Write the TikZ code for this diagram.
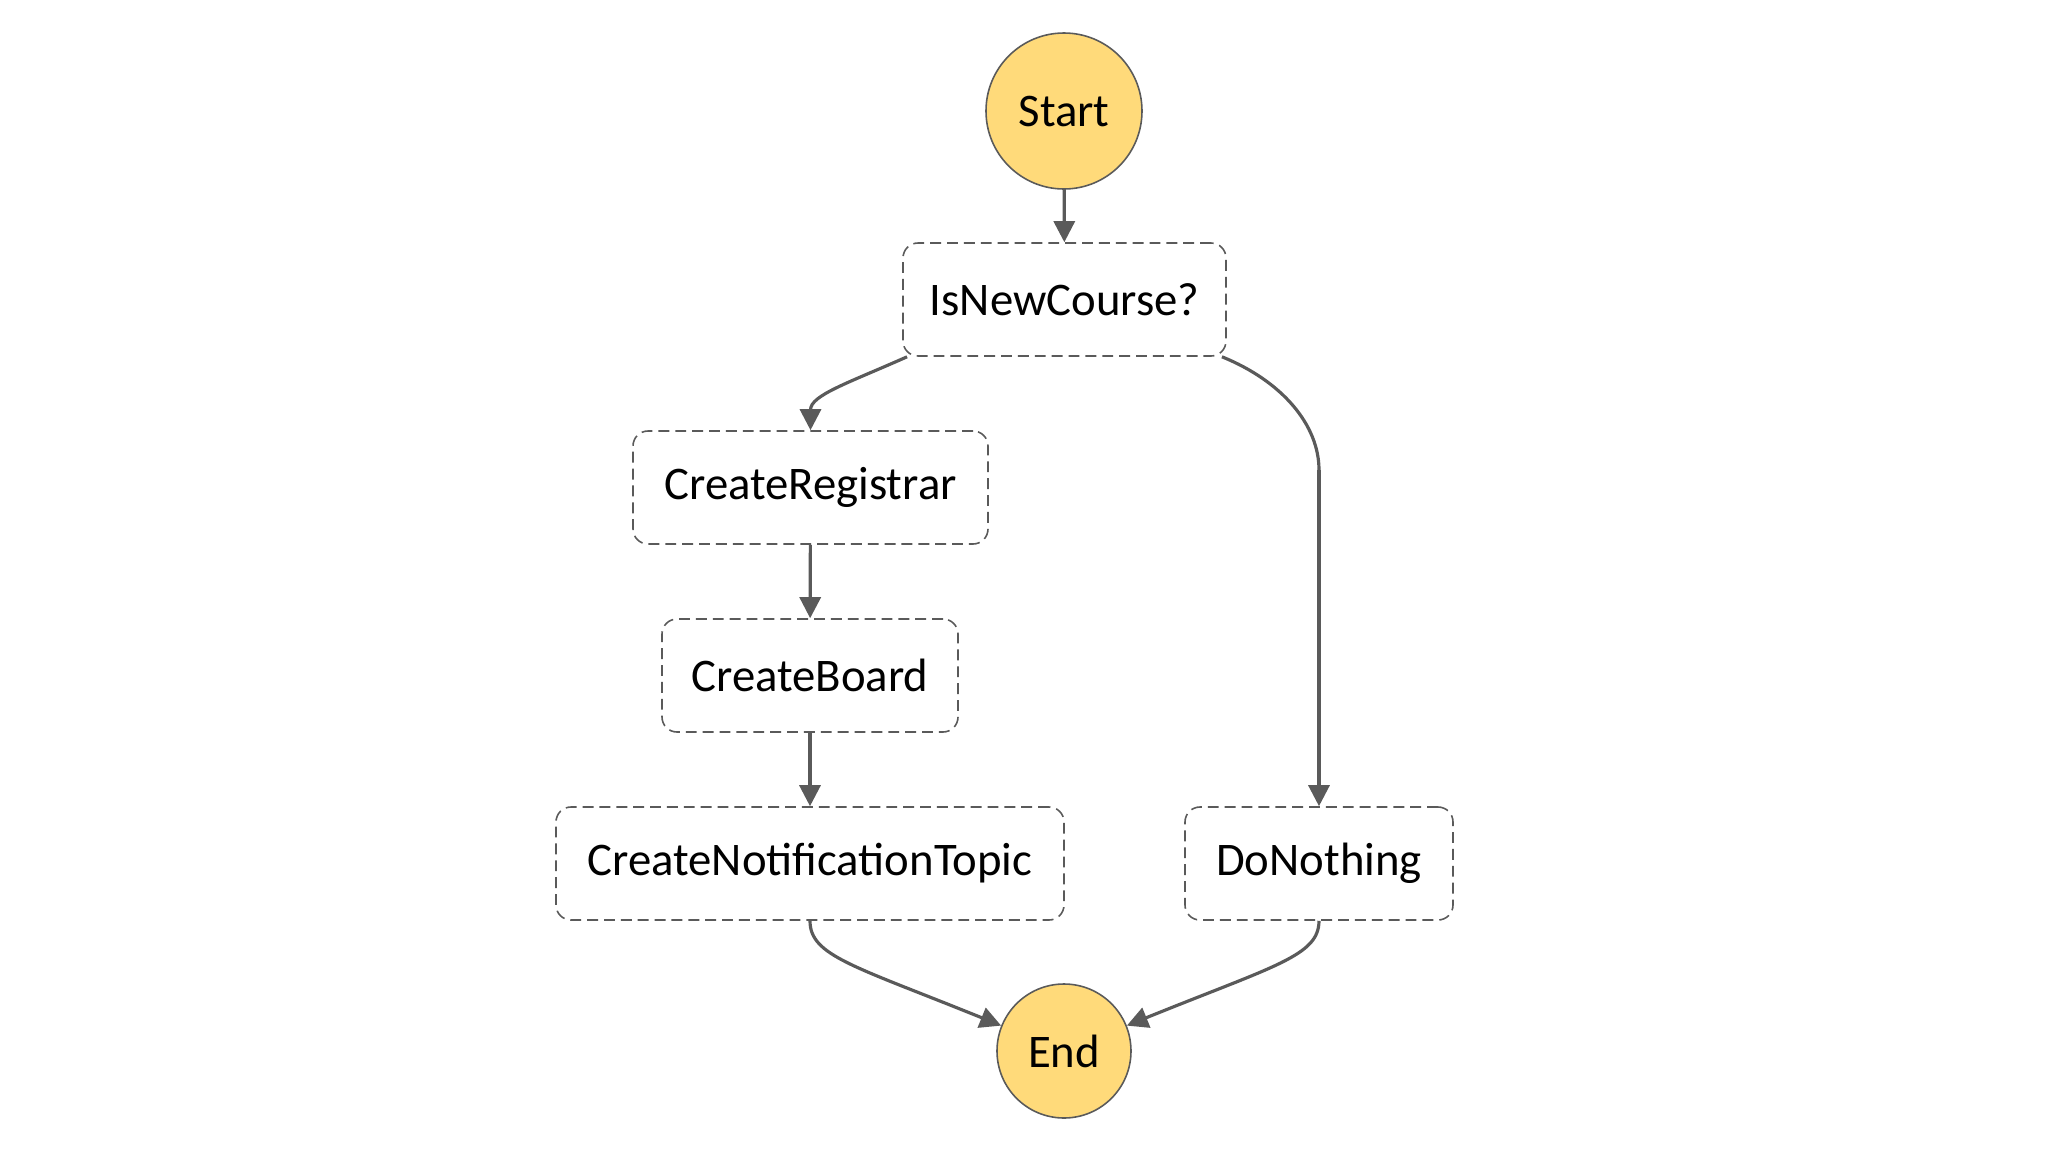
\documentclass[tikz,border=0pt]{standalone}
\usepackage{fontspec}
\setmainfont{Carlito}
\usetikzlibrary{arrows.meta}

\definecolor{stategold}{HTML}{FFDA7A}
\definecolor{edgegray}{HTML}{5A5A5A}

\begin{document}
\begin{tikzpicture}[
    terminal/.style={circle, draw=edgegray, line width=0.45pt, fill=stategold, inner sep=0pt, font=\fontsize{13.3}{15}\selectfont},
    task/.style={rectangle, rounded corners=0.15cm, draw=edgegray, line width=0.45pt, dash pattern=on 3.1pt off 1.7pt, minimum height=1.13cm, inner sep=0pt, font=\fontsize{13.3}{15}\selectfont},
    flow/.style={draw=edgegray, line width=0.9pt, -{Triangle[length=6pt,width=6pt]}}
]
    \useasboundingbox (0,0) rectangle (20.57,-11.57);

    % Start and end
    \node[terminal, minimum size=1.56cm] (start) at (10.64,-1.11) {Start};
    \node[terminal, minimum size=1.34cm] (end) at (10.64,-10.51) {End};

    % States
    \node[task, minimum width=3.23cm] (isnew) at (10.645,-2.995) {IsNewCourse?};
    \node[task, minimum width=3.55cm] (registrar) at (8.105,-4.875) {CreateRegistrar};
    \node[task, minimum width=2.96cm] (board) at (8.10,-6.755) {CreateBoard};
    \node[task, minimum width=5.08cm] (topic) at (8.10,-8.635) {CreateNotificationTopic};
    \node[task, minimum width=2.68cm] (nothing) at (13.19,-8.635) {DoNothing};
    \coordinate (bend) at (13.19,-4.7);

    % Transitions
    \draw[flow] (start) -- (isnew);
    \draw[flow] (isnew.200) .. controls +(204:0.65) and +(0,0.35) .. (registrar.north);
    \draw[flow] (registrar) -- (board);
    \draw[flow] (board) -- (topic);
    \draw[flow, -] (isnew.340) .. controls +(-22:0.65) and +(0,0.45) .. (bend);
    \draw[flow] (bend) -- (nothing.north);
    \draw[flow] (topic.south) .. controls +(0,-0.35) and +(-1.48,0.6) .. (end.158);
    \draw[flow] (nothing.south) .. controls +(0,-0.35) and +(1.48,0.6) .. (end.22);
\end{tikzpicture}
\end{document}
